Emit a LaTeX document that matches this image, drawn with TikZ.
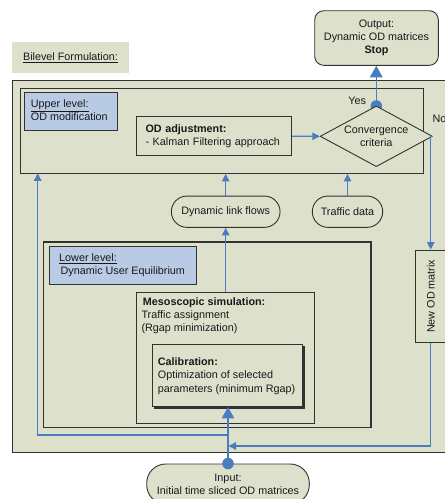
\documentclass[tikz,border=0pt]{standalone}
\usepackage{fontspec}
\setmainfont{Liberation Sans}
\usetikzlibrary{shapes.geometric,arrows.meta}
\definecolor{panel}{RGB}{221,225,204}
\definecolor{lvl}{RGB}{185,202,228}
\definecolor{flow}{RGB}{74,124,192}
\definecolor{boxline}{RGB}{50,50,50}
\definecolor{ink}{RGB}{25,25,25}
\begin{document}
\begin{tikzpicture}[x=1pt,y=-1pt,font=\fontsize{10.8}{13.1}\selectfont,text=ink]
    \tikzstyle{bx} = [rectangle, draw=boxline, fill=panel,
    line width=0.9pt, inner sep=0pt];
    \tikzstyle{lv} = [bx, fill=lvl];
    \tikzstyle{ct} = [bx, line width=1.2pt];
    \tikzstyle{t} = [inner sep=0pt, anchor=north west, align=left];
    \tikzstyle{fl} = [flow, line width=1.2pt,
    -{Triangle[width=7.5pt,length=7.5pt]}];
    \tikzstyle{fb} = [flow, line width=1.3pt,
    -{Triangle[width=12.5pt,length=11.5pt]}];

    \useasboundingbox (0,0) rectangle (445,499);
    \clip (0,0) rectangle (445,499);

    \node[ct, minimum width=457.3, minimum height=372] (1) at (241.35,266.3){};
    \node[rectangle, fill=panel, minimum width=117, minimum height=30.7] (2) at (70.5,57.35){\underline{Bilevel Formulation:}};
    \node[bx, rounded corners=9pt, align=center, minimum width=123.6,
          minimum height=54.6] (3) at (376.5,38){Output:\\Dynamic OD matrices\\\textbf{Stop}};

    \node[ct, minimum width=402.6, minimum height=85] (4) at (222,130.8){};
    \node[lv, minimum width=93, minimum height=38.7] (5) at (70.8,111.35){};
    \node[t] (6) at (30.7,99.8){\underline{Upper level:}\\OD modification};
    \node[bx, text width=137, inner xsep=9.2, align=left,
          minimum height=39] (7) at (214,136.2){\textbf{OD adjustment:}\\- Kalman Filtering approach};

    \coordinate (8) at (376.3,106);
    \fill[flow] (8) circle (5.8);
    \node[bx, diamond, shape aspect=1.85, align=center, minimum width=112.3,
          minimum height=60.7] (9) at (376.3,136.3){Convergence\\criteria};
    \node[] (10) at (357.3,101){Yes};
    \node[anchor=west, inner sep=0pt] (11) at (432.3,119){No};

    \node[bx, rounded corners=15.6pt, minimum width=108.7,
          minimum height=31.3] (12) at (225.7,211.7){Dynamic link flows};
    \node[bx, rounded corners=15.6pt, minimum width=70.4,
          minimum height=31.3] (13) at (347.5,211.7){Traffic data};

    \node[ct, minimum width=327.3, minimum height=185.3] (14) at (207.35,334.65){};
    \node[lv, minimum width=147.4, minimum height=38.4] (15) at (123,265.5){};
    \node[t] (16) at (59,253.5){\underline{Lower level:}\\\hspace*{1.5pt}Dynamic User Equilibrium};
    \node[bx, minimum width=178, minimum height=131] (17) at (225.7,357.8){};
    \node[t] (18) at (141.3,297.5){\hspace*{1.4pt}\textbf{Mesoscopic simulation:}\\Traffic assignment\\(Rgap minimization)};
    \node[bx, fill=boxline, minimum width=149.7, minimum height=62.5] at (229.15,377.25){};
    \node[bx, minimum width=149.7, minimum height=62.5] (19) at (227.15,375.25){};
    \node[t] (20) at (157.7,357.8){\textbf{Calibration:}\\Optimization of selected\\parameters (minimum Rgap)};

    \node[bx, minimum width=31.4, minimum height=92.7] (21) at (430.7,296.35){};
    \node[rotate=90] (22) at (21.center){New OD matrix};

    \node[bx, rounded corners=19pt, align=center, minimum width=162.6,
          minimum height=40] (23) at (228,484){Input:\\Initial time sliced OD matrices};
    \coordinate (24) at (228,435);
    \coordinate (25) at (228.5,446);
    \coordinate (26) at (37.7,173.3);

    \path[fb] (8) edge (8 |- 3.south)
              (23.north) edge (23.north |- 19.south);
    \path[fl] (7) edge (9)
              (12.north) edge (12.north |- 4.south)
              (13.north) edge (13.north |- 4.south)
              (17.north) edge (12.south);
    \draw[fl] (9.east) -| (21.north);
    \draw[fl] (21.south) |- (25);
    \draw[fl] (24) -| (26);
    \fill[flow] (23.north) circle (5.8);
\end{tikzpicture}
\end{document}
